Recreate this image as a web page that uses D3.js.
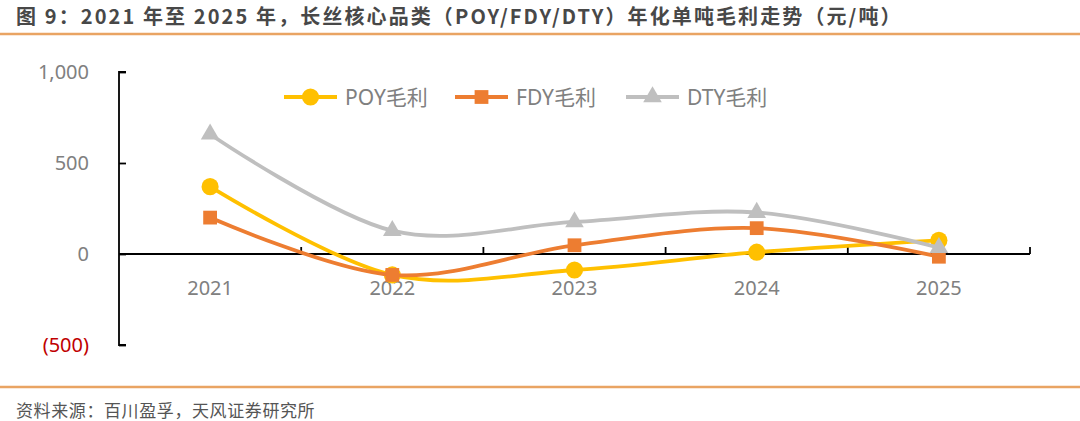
<!DOCTYPE html>
<html>
<head>
<meta charset="utf-8">
<script src="https://d3js.org/d3.v7.min.js"></script>
<style>
  body { margin: 0; background: #fff; }
  text { font-family: "Noto Sans", "Noto Sans CJK SC", sans-serif; }
</style>
</head>
<body>
<script>
// data
let years = ["2021", "2022", "2023", "2024", "2025"];
let poy = [370, -115, -88, 10, 75];
let fdy = [200, -115, 48, 142, -15];
let dty = [658, 128, 176, 228, 35];
let yTicks = [1000, 500, 0, -500];
let seriesNames = ["POY毛利", "FDY毛利", "DTY毛利"];

let W = 1080, H = 421;
let colors = ["#FFC000", "#ED7D31", "#BFBFBF"];
let symbols = [d3.symbolCircle, d3.symbolSquare, d3.symbolTriangle];
let symSize = [230, 190, 150];

let svg = d3.select("body").append("svg")
    .attr("width", W)
    .attr("height", H);

// title and frame lines
svg.append("text")
    .attr("x", 16).attr("y", 24)
    .attr("font-size", 20).attr("font-weight", "bold")
    .attr("letter-spacing", 2.1)
    .attr("fill", "#484848")
    .style("font-family", "'Noto Sans CJK SC', sans-serif")
    .text("图 9：2021 年至 2025 年，长丝核心品类（POY/FDY/DTY）年化单吨毛利走势（元/吨）");

svg.append("line").attr("x1", 0).attr("x2", W).attr("y1", 34).attr("y2", 34)
    .attr("stroke", "#E9A463").attr("stroke-width", 2.5);
svg.append("line").attr("x1", 0).attr("x2", W).attr("y1", 387).attr("y2", 387)
    .attr("stroke", "#E9A463").attr("stroke-width", 2.5);

svg.append("text")
    .attr("x", 16).attr("y", 417)
    .attr("font-size", 17)
    .attr("letter-spacing", 0.6)
    .attr("fill", "#555")
    .style("font-family", "'Noto Sans CJK SC', sans-serif")
    .text("资料来源：百川盈孚，天风证券研究所");

// scales
let x = d3.scaleBand().domain(years).range([119, 1030]);
let y = d3.scaleLinear().domain([-500, 1000]).range([345, 72]);

// y axis
let yAxis = svg.append("g")
    .attr("transform", "translate(119,0)")
    .call(d3.axisRight(y).tickValues(yTicks).tickSize(7).tickFormat(""));
yAxis.select(".domain").attr("stroke", "#000").attr("stroke-width", 1.8)
    .attr("d", `M7,${y(1000)}H0V${y(-500)}H7`);
yAxis.selectAll(".tick line").attr("stroke", "#000").attr("stroke-width", 1.8);

svg.selectAll(".ylab")
    .data(yTicks)
    .join("text")
    .attr("class", "ylab")
    .attr("x", 89)
    .attr("y", d => y(d) + 7)
    .attr("text-anchor", "end")
    .attr("font-size", 20)
    .attr("fill", d => d < 0 ? "#C00000" : "#808080")
    .text(d => d < 0 ? "(" + d3.format(",")(-d) + ")" : d3.format(",")(d));

// x axis at zero
let xAxisG = svg.append("g").attr("transform", `translate(0,${y(0)})`);
xAxisG.append("line")
    .attr("x1", 119).attr("x2", 1030)
    .attr("stroke", "#000").attr("stroke-width", 1.8);
let bounds = years.slice(1).map(d => x(d)).concat([x.range()[1]]);
xAxisG.selectAll(".xtick")
    .data(bounds)
    .join("line")
    .attr("x1", d => d).attr("x2", d => d)
    .attr("y1", 0).attr("y2", -7)
    .attr("stroke", "#000").attr("stroke-width", 1.8);
svg.selectAll(".xlab")
    .data(years)
    .join("text")
    .attr("x", d => x(d) + x.bandwidth() / 2)
    .attr("y", 295)
    .attr("text-anchor", "middle")
    .attr("font-size", 20)
    .attr("fill", "#808080")
    .text(d => d);

// smoothed lines like Excel
let line = d3.line()
    .x((d, i) => x(years[i]) + x.bandwidth() / 2)
    .y(d => y(d))
    .curve(d3.curveCatmullRom.alpha(0));

let allSeries = [poy, fdy, dty];
allSeries.forEach((s, k) => {
    svg.append("path")
        .datum(s)
        .attr("d", line)
        .attr("fill", "none")
        .attr("stroke", colors[k])
        .attr("stroke-width", 3.8);
    svg.selectAll(".m" + k)
        .data(s)
        .join("path")
        .attr("class", "m" + k)
        .attr("transform", (d, i) => `translate(${x(years[i]) + x.bandwidth() / 2},${y(d)})`)
        .attr("d", d3.symbol().type(symbols[k]).size(symSize[k]))
        .attr("fill", colors[k]);
});

// legend
let legX = [284, 455, 626];
seriesNames.forEach((name, k) => {
    let g = svg.append("g").attr("transform", `translate(${legX[k]},97)`);
    g.append("line").attr("x1", 0).attr("x2", 53)
        .attr("stroke", colors[k]).attr("stroke-width", 3.8);
    g.append("path")
        .attr("transform", "translate(26.5,0)")
        .attr("d", d3.symbol().type(symbols[k]).size(symSize[k]))
        .attr("fill", colors[k]);
    g.append("text")
        .attr("x", 61).attr("y", 8)
        .attr("font-size", 21)
        .attr("fill", "#808080")
        .text(name);
});
</script>
</body>
</html>
